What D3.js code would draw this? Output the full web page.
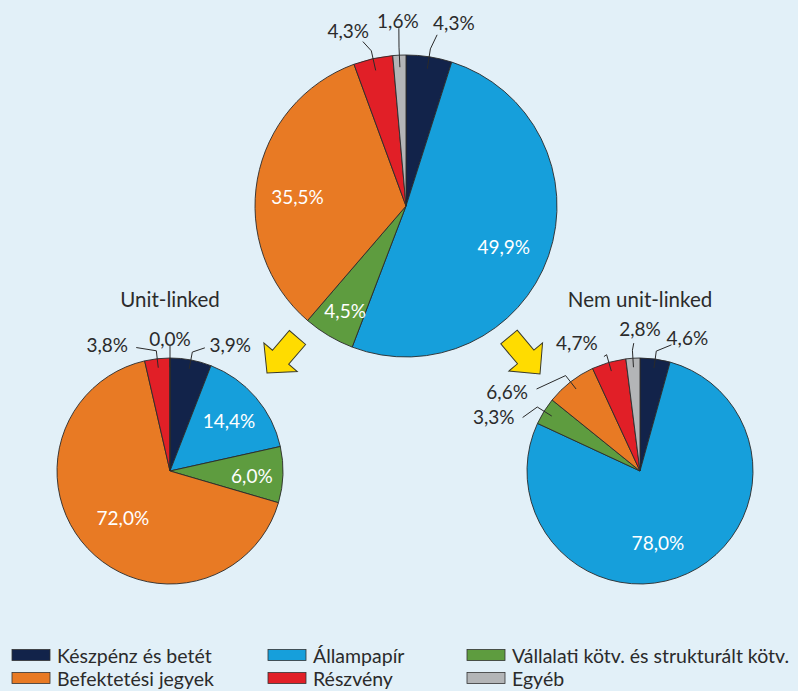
<!DOCTYPE html>
<html>
<head>
<meta charset="utf-8">
<script src="https://cdn.jsdelivr.net/npm/d3@7"></script>
<style>
    body { margin: 0; background: #e2f0f8; }
    svg { display: block; font-family: Lato, "Open Sans", sans-serif; }
</style>
</head>
<body>
<script>
// categories in legend order (= slice order, clockwise from 12 o'clock)
const categories = ['Készpénz és betét', 'Állampapír', 'Vállalati kötv. és strukturált kötv.',
    'Befektetési jegyek', 'Részvény', 'Egyéb'];

// printed percentages
const totalValues = [4.3, 49.9, 4.5, 35.5, 4.3, 1.6];
const unitLinkedValues = [3.9, 14.4, 6.0, 72.0, 3.8, 0.0];
const nonUnitLinkedValues = [4.6, 78.0, 3.3, 6.6, 4.7, 2.8];

// slice shares as drawn in the picture (they differ a bit from the printed labels)
const totalShares = [4.9, 50.9, 5.5, 33.1, 4.2, 1.4];
const unitLinkedShares = [5.9, 15.6, 8.0, 66.8, 3.6, 0.0];
const nonUnitLinkedShares = [4.3, 77.7, 3.9, 7.3, 4.9, 2.0];

const pieTitles = ['', 'Unit-linked', 'Nem unit-linked'];

const colors = ['#12234a', '#169fdb', '#5e9c3f', '#e87a24', '#e11f27', '#b3b5b7'];

const svgWidth = 798;
const svgHeight = 691;

// label layout: a/d = label angle (deg) and distance; la/ld = leader end angle and distance
const config = {
    pies: [
        {cx: 406, cy: 206, r: 151, labels: [
            {a: 14.6, d: 190, la: 10.3, ld: 174},
            {a: 112.7, d: 106, inside: true},
            {a: 210.2, d: 121, inside: true},
            {a: 275.2, d: 109, inside: true},
            {a: -18.2, d: 185, la: -14.7, ld: 170},
            {a: -2.5, d: 186, la: -2.3, ld: 178}
        ]},
        {cx: 170, cy: 471, r: 113, title: {dy: -172}, labels: [
            {a: 25.5, d: 140, la: 15.8, ld: 128},
            {a: 49.2, d: 78, inside: true},
            {a: 92.8, d: 82, inside: true},
            {a: 225.6, d: 66, inside: true},
            {a: -26.4, d: 141, la: -15.3, ld: 128},
            {a: 0, d: 133, la: 0, ld: 125}
        ]},
        {cx: 640, cy: 471, r: 113, title: {dy: -172}, labels: [
            {a: 19.5, d: 142, la: 14, ld: 130},
            {a: 166, d: 74, inside: true},
            {a: -69.6, d: 156, la: -65.5, ld: 129},
            {a: -59, d: 155, la: -51.6, ld: 132},
            {a: -26.2, d: 143, la: -17.5, ld: 120},
            {a: 0, d: 143, la: -2.8, ld: 128}
        ]}
    ],
    legend: {x0: 12, cols: [0, 256, 455], y0: 655, rowH: 23, sw: 38, sh: 11}
};

const fmt = v => d3.format('.1f')(v).replace('.', ',') + '%';
const rad = deg => deg * Math.PI / 180;
const polar = (a, d) => [Math.sin(a) * d, -Math.cos(a) * d];

window.onload = main;

function main() {
    const svg = d3.select('body').append('svg')
        .attr('width', svgWidth)
        .attr('height', svgHeight);

    svg.append('rect').attr('width', svgWidth).attr('height', svgHeight).attr('fill', '#e2f0f8');

    const scaleColor = d3.scaleOrdinal().domain(categories).range(colors);

    const shares = [totalShares, unitLinkedShares, nonUnitLinkedShares];
    const printed = [totalValues, unitLinkedValues, nonUnitLinkedValues];
    shares.forEach((s, i) => drawPie(svg, s, printed[i], config.pies[i], pieTitles[i], scaleColor));

    drawArrow(svg, [297.5, 337.5], [267, 373]);
    drawArrow(svg, [509, 337], [540, 374]);

    drawLegend(svg, scaleColor);
}

function drawPie(svg, shares, printed, cfg, title, scaleColor) {
    const data = categories.map((k, i) => ({key: k, share: shares[i], value: printed[i], layout: cfg.labels[i]}));
    const pie = d3.pie().sort(null).value(d => d.share);
    const arcs = pie(data);
    const arc = d3.arc().innerRadius(0).outerRadius(cfg.r);

    const g = svg.append('g').attr('transform', `translate(${cfg.cx}, ${cfg.cy})`);

    g.selectAll('path.slice')
        .data(arcs)
        .join('path')
        .attr('class', 'slice')
        .attr('d', arc)
        .attr('fill', d => scaleColor(d.data.key))
        .attr('stroke', '#2a2a2a')
        .attr('stroke-width', 0.9)
        .attr('stroke-linejoin', 'round');

    // leader lines
    const outside = arcs.filter(d => !d.data.layout.inside);
    g.selectAll('path.leader')
        .data(outside)
        .join('path')
        .attr('class', 'leader')
        .attr('fill', 'none')
        .attr('stroke', '#2a2a2a')
        .attr('stroke-width', 1)
        .attr('d', d => {
            const mid = (d.startAngle + d.endAngle) / 2;
            const p0 = polar(mid, cfg.r * 0.92);
            const p1 = polar(mid, cfg.r + 8);
            const p2 = polar(rad(d.data.layout.la), d.data.layout.ld);
            return d3.line()([p0, p1, p2]);
        });

    g.selectAll('text.lbl')
        .data(arcs)
        .join('text')
        .attr('class', 'lbl')
        .attr('text-anchor', 'middle')
        .attr('dominant-baseline', 'central')
        .attr('font-size', 19)
        .attr('fill', d => d.data.layout.inside ? '#ffffff' : '#2b2b2b')
        .attr('x', d => polar(rad(d.data.layout.a), d.data.layout.d)[0])
        .attr('y', d => polar(rad(d.data.layout.a), d.data.layout.d)[1])
        .text(d => fmt(d.data.value));

    if (title) {
        g.append('text')
            .attr('text-anchor', 'middle')
            .attr('dominant-baseline', 'central')
            .attr('y', cfg.title.dy)
            .attr('font-size', 20.5)
            .attr('fill', '#2b2b2b')
            .text(title);
    }
}

function drawArrow(svg, back, tip) {
    // block arrow from back to tip
    const dx = tip[0] - back[0], dy = tip[1] - back[1];
    const len = Math.hypot(dx, dy);
    const ang = Math.atan2(dy, dx) * 180 / Math.PI;
    const shaft = 26, hw = 10.7, headW = 22;
    const pts = [[0, -hw], [shaft, -hw], [shaft, -headW], [len, 0], [shaft, headW], [shaft, hw], [0, hw]];
    svg.append('path')
        .attr('transform', `translate(${back[0]}, ${back[1]}) rotate(${ang})`)
        .attr('d', d3.line()(pts) + 'Z')
        .attr('fill', '#ffdc00')
        .attr('stroke', '#3a3a2a')
        .attr('stroke-width', 1)
        .attr('stroke-linejoin', 'miter');
}

function drawLegend(svg, scaleColor) {
    const L = config.legend;
    const g = svg.append('g').classed('legend', true);
    const items = g.selectAll('g')
        .data(categories)
        .join('g')
        .attr('transform', (d, i) => `translate(${L.x0 + L.cols[i % 3]}, ${L.y0 + Math.floor(i / 3) * L.rowH})`);
    items.append('rect')
        .attr('y', -L.sh / 2)
        .attr('width', L.sw)
        .attr('height', L.sh)
        .attr('fill', d => scaleColor(d))
        .attr('stroke', '#333')
        .attr('stroke-width', 0.8);
    items.append('text')
        .attr('x', L.sw + 7)
        .attr('dominant-baseline', 'central')
        .attr('font-size', 19.5)
        .attr('fill', '#2b2b2b')
        .text(d => d);
}
</script>
</body>
</html>
